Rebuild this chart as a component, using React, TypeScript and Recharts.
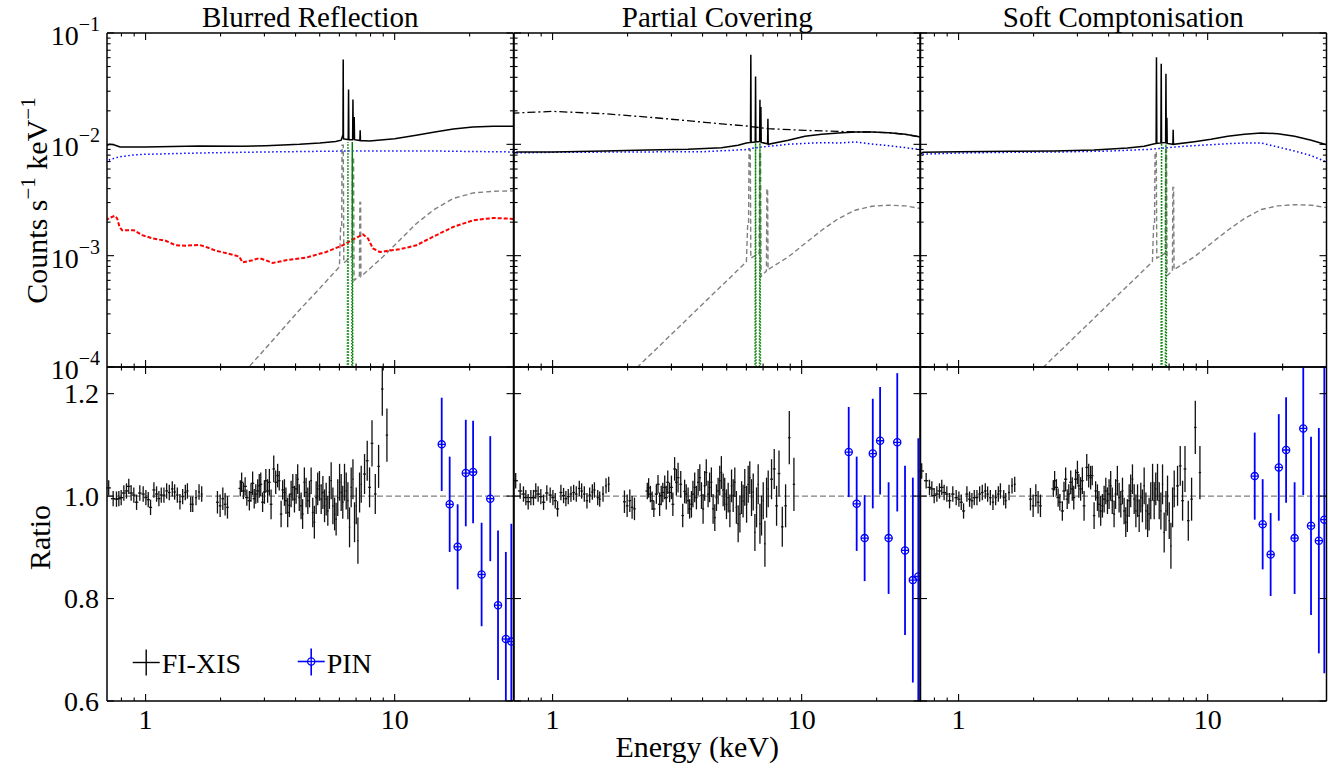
import React from 'react';
import { ComposedChart, Line, Scatter, XAxis, YAxis, ErrorBar, ReferenceLine, Legend } from 'recharts';

// ---------------- fonts / geometry (style only) ----------------
const FONT = '"Liberation Serif", "DejaVu Serif", "Times New Roman", serif';
const TXT = { fontFamily: FONT } as const;
const TICK_FS = 28;
const LABEL_FS = 30;
const TITLE_FS = 29;
const PLOT_LEFTS = [107.3, 513.8, 920.3];
const PLOT_W = 406.5;
const TOP_Y = 32.5;
const MID_Y = 366.5;
const PLOT_H = 334;
const PAD = { top: 45, right: 15, bottom: 72, left: 110 };
const AX = 1; // axis thickness reserved (axes of size 0 are not drawn)
const M = { top: PAD.top - AX, right: PAD.right - AX, bottom: PAD.bottom - AX, left: PAD.left - AX };
const CHART_W = PAD.left + PLOT_W + PAD.right;
const CHART_H = PAD.top + PLOT_H + PAD.bottom;
const TICK_MAJOR = 7;
const TICK_MINOR = 3.6;

// ---------------- axes ----------------
const X_DOMAIN: [number, number] = [0.7, 30];
const Y_LOG_DOMAIN: [number, number] = [0.0001, 0.1];
const RATIO_DOMAIN: [number, number] = [0.6, 1.252];
const xMajorTicks = [1, 10];
const xMajorLabels = ['1', '10'];
const xAllTicks = [0.8, 0.9, 1, 2, 3, 4, 5, 6, 7, 8, 9, 10, 20];
const yLogMajor = [0.0001, 0.001, 0.01, 0.1];
const yLogExponents = ['\u22124', '\u22123', '\u22122', '\u22121'];
const yLogAllTicks = [
  0.0001, 0.0002, 0.0003, 0.0004, 0.0005, 0.0006, 0.0007, 0.0008, 0.0009,
  0.001, 0.002, 0.003, 0.004, 0.005, 0.006, 0.007, 0.008, 0.009,
  0.01, 0.02, 0.03, 0.04, 0.05, 0.06, 0.07, 0.08, 0.09, 0.1,
];
const ratioTicks = [0.6, 0.8, 1.0, 1.2];
const ratioTickLabels = ['0.6', '0.8', '1.0', '1.2'];
const panelTitles = ['Blurred Reflection', 'Partial Covering', 'Soft Comptonisation'];

// ---------------- model curves: [energy keV, counts/s/keV] ----------------
const brTotal: [number, number][] = [
  [0.69, 0.0096], [0.715, 0.01], [0.745, 0.0099], [0.765, 0.0097], [0.79, 0.00945],
  [1.0, 0.00946], [1.64, 0.00966], [2.45, 0.00959], [3.04, 0.00973], [4.15, 0.01],
  [5.0, 0.01028], [5.8, 0.0106], [6.1, 0.0109], [6.17, 0.0118], [6.2, 0.0115],
  [6.215, 0.0578], [6.23, 0.0112], [6.51, 0.011], [6.53, 0.0311], [6.55, 0.011],
  [6.78, 0.011], [6.8, 0.0253], [6.82, 0.0112], [6.86, 0.0112], [6.88, 0.0176],
  [6.9, 0.011], [7.25, 0.0108], [7.27, 0.0134], [7.29, 0.0108], [7.92, 0.0107],
  [10.0, 0.0112], [12.2, 0.01204], [14.3, 0.01281], [17.2, 0.01373], [20.6, 0.0143],
  [24.9, 0.0145], [30.0, 0.0145],
];
const brPowerlaw: [number, number][] = [
  [0.69, 0.0069], [0.72, 0.0073], [0.78, 0.0077], [0.88, 0.008], [1.0, 0.00814],
  [1.64, 0.00836], [3.04, 0.00854], [6.39, 0.00871], [14.27, 0.00871], [30.0, 0.00854],
];
const brBlurred: [number, number][] = [
  [0.69, 0.00207], [0.723, 0.0022], [0.752, 0.00228], [0.769, 0.00216], [0.786, 0.00181],
  [0.805, 0.00169], [0.898, 0.00169], [0.97, 0.00153], [1.064, 0.00143], [1.204, 0.00136],
  [1.321, 0.00124], [1.449, 0.00123], [1.64, 0.00125], [1.744, 0.0012], [1.913, 0.00111],
  [2.234, 0.00102], [2.376, 0.00098], [2.451, 0.00087], [2.689, 0.00091], [2.86, 0.00095],
  [3.04, 0.00091], [3.236, 0.00086], [3.663, 0.00091], [4.41, 0.00096], [5.31, 0.00108],
  [6.19, 0.00124], [6.8, 0.0014], [7.46, 0.00155], [7.81, 0.00143], [8.18, 0.00116],
  [8.7, 0.00108], [9.55, 0.00111], [10.47, 0.00114], [12.23, 0.00124], [14.27, 0.00148],
  [17.17, 0.00181], [20.67, 0.00208], [24.9, 0.00218], [30.0, 0.00214],
];
const brDistant: [number, number][] = [
  [2.376, 0.00008], [3.337, 0.000187], [4.143, 0.000324], [5.145, 0.000544], [6.0, 0.000794],
  [6.07, 0.00182], [6.13, 0.0018], [6.15, 0.0098], [6.22, 0.0098], [6.25, 0.00086],
  [6.75, 0.001], [6.77, 0.0077], [6.84, 0.0077], [6.87, 0.0006], [7.22, 0.00066],
  [7.25, 0.003], [7.3, 0.003], [7.32, 0.00065], [7.69, 0.000716], [8.97, 0.000976],
  [10.47, 0.001377], [12.23, 0.001943], [14.27, 0.00256], [17.17, 0.00326], [20.67, 0.00366],
  [24.9, 0.00379], [30.0, 0.00382],
];
const brLines: [number, number][] = [
  [6.43, 0.000001], [6.49, 0.0105], [6.55, 0.000001], [6.7, 0.000001], [6.76, 0.0105], [6.82, 0.000001],
];

const pcTotal: [number, number][] = [
  [0.69, 0.0082], [0.72, 0.00854], [1.0, 0.00854], [1.615, 0.00871], [2.413, 0.0089],
  [3.497, 0.00902], [4.764, 0.00934], [5.559, 0.0098], [6.0, 0.01028], [6.23, 0.0104],
  [6.25, 0.0637], [6.27, 0.0104], [6.51, 0.0105], [6.53, 0.0407], [6.55, 0.0105],
  [6.78, 0.0106], [6.8, 0.02515], [6.82, 0.0106], [6.84, 0.0106], [6.86, 0.0216],
  [6.88, 0.0104], [7.3, 0.0101], [7.32, 0.017], [7.34, 0.01], [8.84, 0.01086],
  [10.31, 0.0118], [12.04, 0.01229], [14.05, 0.01264], [16.4, 0.0129], [19.14, 0.0129],
  [22.34, 0.01273], [26.07, 0.01229], [30.0, 0.01163],
];
const pcUnabsorbed: [number, number][] = [
  [0.69, 0.0183], [0.7, 0.0191], [1.0, 0.01977], [1.615, 0.01884], [2.567, 0.01735],
  [4.08, 0.01575], [6.0, 0.01461], [7.34, 0.01382], [10.31, 0.01335], [14.05, 0.01308],
  [16.4, 0.0129], [19.14, 0.0129], [22.34, 0.01273], [26.07, 0.01229], [30.0, 0.01163],
];
const pcPowerlaw: [number, number][] = [
  [0.69, 0.00836], [1.0, 0.00848], [2.199, 0.00854], [4.08, 0.0086], [5.91, 0.00896],
  [6.29, 0.0092], [7.34, 0.0096], [8.84, 0.01], [10.31, 0.0102], [12.04, 0.01035],
  [14.05, 0.01028], [16.4, 0.0105], [19.14, 0.01007], [22.34, 0.00973], [26.07, 0.00934],
  [30.0, 0.00896],
];
const pcDistant: [number, number][] = [
  [2.068, 0.000088], [2.996, 0.000196], [4.08, 0.000383], [5.559, 0.000746], [6.0, 0.000881],
  [6.07, 0.0019], [6.12, 0.0019], [6.15, 0.009], [6.22, 0.009], [6.25, 0.00095],
  [6.75, 0.00105], [6.78, 0.0085], [6.84, 0.0085], [6.87, 0.00065], [7.22, 0.00073],
  [7.25, 0.004], [7.3, 0.004], [7.33, 0.00075], [8.84, 0.000976], [10.31, 0.001285],
  [12.04, 0.001693], [14.05, 0.002155], [16.4, 0.00256], [19.14, 0.00278], [22.34, 0.00284],
  [26.07, 0.0028], [30.0, 0.00265],
];
const pcLines: [number, number][] = [
  [6.47, 0.000001], [6.53, 0.0103], [6.59, 0.000001], [6.74, 0.000001], [6.8, 0.0103], [6.86, 0.000001],
];

const scTotal: [number, number][] = [
  [0.69, 0.008], [0.72, 0.00848], [1.0, 0.0086], [1.615, 0.00866], [2.413, 0.00871],
  [3.497, 0.0089], [4.764, 0.00927], [5.559, 0.0096], [6.0, 0.01], [6.21, 0.0102],
  [6.23, 0.0607], [6.25, 0.0102], [6.49, 0.0103], [6.51, 0.0529], [6.53, 0.0103],
  [6.78, 0.0104], [6.8, 0.043], [6.82, 0.0104], [6.84, 0.0104], [6.86, 0.01735],
  [6.88, 0.0102], [7.25, 0.01], [7.27, 0.01354], [7.29, 0.01], [8.84, 0.01057],
  [10.31, 0.01109], [12.04, 0.0118], [14.05, 0.01229], [16.4, 0.01264], [19.14, 0.01247],
  [22.34, 0.0118], [26.07, 0.01086], [30.0, 0.00993],
];
const scCompt: [number, number][] = [
  [0.69, 0.00814], [1.0, 0.00836], [1.615, 0.00848], [2.567, 0.00854], [4.08, 0.00871],
  [5.91, 0.00902], [7.34, 0.00946], [8.84, 0.00973], [10.31, 0.00993], [12.04, 0.01014],
  [14.05, 0.01028], [16.4, 0.01028], [19.14, 0.00946], [22.34, 0.00871], [26.07, 0.00791],
  [30.0, 0.00694],
];
const scDistant: [number, number][] = [
  [2.068, 0.000088], [2.996, 0.000196], [4.08, 0.000383], [5.559, 0.000746], [6.0, 0.000881],
  [6.07, 0.0019], [6.12, 0.0019], [6.15, 0.0085], [6.22, 0.0085], [6.25, 0.00095],
  [6.75, 0.00105], [6.78, 0.0088], [6.84, 0.0088], [6.87, 0.00066], [7.22, 0.00073],
  [7.25, 0.0041], [7.3, 0.0041], [7.33, 0.00075], [8.84, 0.000976], [10.31, 0.001285],
  [12.04, 0.001693], [14.05, 0.002155], [16.4, 0.0026], [19.14, 0.0028], [22.34, 0.00287],
  [26.07, 0.00284], [30.0, 0.0027],
];
const scLines: [number, number][] = [
  [6.47, 0.000001], [6.53, 0.0102], [6.59, 0.000001], [6.74, 0.000001], [6.8, 0.0102], [6.86, 0.000001],
];

// ---------------- FI-XIS ratio data ----------------
const xisLowE = [0.711, 0.741, 0.764, 0.781, 0.798, 0.818, 0.838, 0.856, 0.875, 0.897, 0.92, 0.948, 0.978, 1.003, 1.025, 1.047, 1.08, 1.107, 1.131, 1.156, 1.185, 1.215, 1.245, 1.28, 1.308, 1.341, 1.374, 1.409, 1.444, 1.472, 1.518, 1.546, 1.594, 1.639, 1.68];
const xisGapE = [1.943, 1.992, 2.042, 2.086, 2.132];
const xisMidE = [2.4, 2.43, 2.47, 2.51, 2.55, 2.61, 2.65, 2.69, 2.73, 2.77, 2.82, 2.86, 2.9, 2.95, 3.0, 3.04, 3.09, 3.14, 3.19, 3.27, 3.33, 3.39, 3.44, 3.5, 3.55, 3.61, 3.66, 3.72, 3.78, 3.84, 3.9, 3.96, 4.02, 4.08, 4.14, 4.21, 4.27, 4.34, 4.41, 4.48, 4.55, 4.62, 4.69, 4.76, 4.84, 4.91, 4.99, 5.07, 5.15, 5.23, 5.31, 5.39, 5.47, 5.56, 5.65, 5.74, 5.82, 5.91, 6.01, 6.1, 6.19, 6.29, 6.39, 6.49, 6.59, 6.69, 6.8, 6.9, 7.01, 7.12, 7.23, 7.34, 7.57, 7.76, 7.93, 8.11, 8.36, 8.62, 8.92, 9.31];
const xisMidErr = [
  0.016, 0.019, 0.016, 0.018, 0.016, 0.019, 0.018, 0.023, 0.019, 0.019,
  0.023, 0.023, 0.023, 0.019, 0.023, 0.023, 0.023, 0.026, 0.029, 0.026,
  0.023, 0.023, 0.019, 0.026, 0.019, 0.026, 0.026, 0.029, 0.023, 0.026,
  0.026, 0.026, 0.029, 0.029, 0.026, 0.026, 0.029, 0.029, 0.029, 0.026,
  0.026, 0.026, 0.029, 0.032, 0.032, 0.032, 0.029, 0.029, 0.032, 0.032,
  0.032, 0.029, 0.032, 0.036, 0.036, 0.032, 0.032, 0.036, 0.036, 0.036,
  0.032, 0.036, 0.036, 0.036, 0.039, 0.039, 0.039, 0.039, 0.036, 0.045,
  0.039, 0.036, 0.039, 0.039, 0.039, 0.045, 0.039, 0.042, 0.052, 0.052,
];
const xisLowErr = 0.015;
const xisGapErr = 0.022;
const xisBinHalf = { low: 0.015, gap: 0.025, mid: 0.04, high: 0.1 };

const brXisLow = [1.016, 0.995, 0.994, 0.995, 0.997, 1.006, 1.01, 1.019, 1.006, 1.002, 0.988, 1.006, 1.004, 0.997, 0.993, 0.978, 1.012, 1.004, 0.995, 1.002, 1.002, 1.01, 1.007, 1.014, 1.008, 1.002, 0.989, 0.999, 1.007, 1.01, 0.984, 0.984, 0.997, 1.008, 1.004];
const brXisGap = [0.988, 0.981, 0.995, 0.984, 0.978];
const brXisMid = [
  1.015, 1.027, 1.01, 1.019, 0.997, 0.991, 1.007, 1.025, 0.995, 1.004,
  1.01, 1.02, 1.023, 0.988, 1.008, 1.03, 1.01, 1.027, 0.984, 1.053,
  1.027, 1.04, 1.03, 0.965, 1.012, 1.007, 0.991, 0.968, 0.982, 1.004,
  1.017, 0.994, 1.014, 1.033, 0.997, 0.981, 0.965, 1.027, 1.007, 0.991,
  1.004, 1.03, 0.968, 0.949, 0.997, 1.014, 1.02, 0.994, 1.007, 0.981,
  0.994, 0.971, 1.007, 1.03, 0.981, 0.965, 0.955, 0.997, 1.027, 1.007,
  0.988, 1.027, 1.01, 0.991, 0.939, 1.017, 1.033, 0.949, 0.981, 0.913,
  1.007, 1.023, 1.043, 1.069, 1.017, 1.103, 1.004, 1.058, 1.209, 1.119,
];
const pcXisLow = [1.03, 1.01, 1.004, 0.997, 0.989, 0.997, 0.997, 1.01, 1.004, 0.999, 0.988, 1.006, 1.002, 0.997, 0.991, 0.975, 1.007, 1.001, 0.995, 0.999, 1.004, 1.007, 1.004, 1.015, 1.01, 1.004, 0.991, 1.002, 1.008, 1.012, 0.997, 0.994, 1.004, 1.02, 1.023];
const pcXisGap = [0.989, 0.981, 0.991, 0.978, 0.975];
const pcXisMid = [
  1.01, 1.016, 1.004, 0.991, 0.975, 1.004, 1.023, 0.984, 1.001, 1.007,
  1.017, 0.997, 1.027, 1.007, 1.017, 0.984, 1.053, 1.027, 1.036, 1.023,
  0.962, 1.009, 1.004, 0.991, 0.975, 0.984, 1.004, 1.017, 0.997, 1.027,
  1.036, 1.001, 0.975, 1.02, 1.046, 1.004, 1.017, 1.027, 0.975, 0.958,
  0.997, 1.01, 1.03, 1.046, 1.012, 1.004, 0.984, 0.997, 0.971, 1.02,
  1.001, 1.027, 0.978, 0.946, 0.965, 0.997, 0.99, 1.017, 0.984, 1.023,
  1.036, 0.997, 1.008, 0.929, 0.978, 1.023, 0.946, 0.962, 0.991, 0.907,
  0.997, 1.014, 1.033, 1.053, 0.981, 1.044, 0.94, 0.981, 1.114, 1.023,
];
const scXisLow = [1.049, 1.03, 1.017, 1.014, 1.001, 1.004, 1.01, 1.017, 1.007, 1.004, 0.991, 1.004, 0.997, 0.994, 0.988, 0.971, 1.004, 0.994, 0.991, 0.997, 0.997, 1.004, 1.007, 1.01, 1.004, 0.997, 0.988, 0.997, 1.004, 1.01, 0.997, 0.991, 1.007, 1.02, 1.023];
const scXisGap = [0.994, 0.981, 1.001, 0.988, 0.981];
const scXisMid = [
  1.014, 1.03, 1.017, 0.997, 0.988, 0.971, 1.01, 1.033, 0.994, 1.004,
  1.027, 1.014, 0.997, 1.033, 1.046, 1.02, 1.014, 1.03, 0.981, 1.056,
  1.04, 1.036, 1.04, 0.962, 1.01, 0.997, 0.984, 0.971, 0.981, 0.994,
  1.01, 0.991, 1.004, 1.02, 0.991, 0.965, 1.004, 1.03, 0.997, 0.984,
  1.01, 0.971, 0.949, 0.962, 0.991, 1.01, 1.033, 0.994, 0.971, 0.991,
  0.962, 0.997, 0.981, 1.02, 0.971, 0.952, 0.965, 0.991, 1.027, 0.991,
  1.014, 1.027, 0.991, 0.971, 1.023, 0.929, 0.971, 1.001, 0.952, 0.903,
  0.978, 1.014, 1.02, 1.059, 0.991, 1.053, 0.952, 0.994, 1.134, 1.046,
];

// ---------------- PIN ratio data ----------------
const pinE = [15.45, 16.63, 17.9, 19.3, 20.65, 22.34, 24.2, 26.0, 27.95, 29.4];
const brPin = [1.101, 0.984, 0.901, 1.045, 1.047, 0.847, 0.995, 0.787, 0.721, 0.716];
const brPinErr = [0.091, 0.093, 0.083, 0.104, 0.1, 0.101, 0.122, 0.146, 0.17, 0.23];
const pcPin = [1.086, 0.985, 0.918, 1.083, 1.108, 0.918, 1.105, 0.894, 0.836, 0.843];
const pcPinErr = [0.088, 0.092, 0.084, 0.107, 0.105, 0.109, 0.135, 0.165, 0.2, 0.27];
const scPin = [1.039, 0.945, 0.886, 1.056, 1.09, 0.918, 1.132, 0.942, 0.913, 0.954];
const scPinErr = [0.085, 0.088, 0.081, 0.104, 0.103, 0.109, 0.13, 0.174, 0.22, 0.3];

// ---------------- styles ----------------
type Curve = { data: [number, number][]; stroke: string; width: number; dash?: string };
const S_TOTAL = { stroke: '#000000', width: 1.5 };
const S_BLUE = { stroke: '#0000ff', width: 1.5, dash: '1.5 2.5' };
const S_RED = { stroke: '#ff0000', width: 2, dash: '4 2' };
const S_GREY = { stroke: '#808080', width: 1.4, dash: '5 3' };
const S_GREEN = { stroke: '#008000', width: 1.5, dash: '1.5 1.5' };
const S_DASHDOT = { stroke: '#000000', width: 1.3, dash: '8 3 2 3' };

const modelCurves: Curve[][] = [
  [
    { data: brDistant, ...S_GREY },
    { data: brBlurred, ...S_RED },
    { data: brPowerlaw, ...S_BLUE },
    { data: brLines, ...S_GREEN },
    { data: brTotal, ...S_TOTAL },
  ],
  [
    { data: pcDistant, ...S_GREY },
    { data: pcPowerlaw, ...S_BLUE },
    { data: pcLines, ...S_GREEN },
    { data: pcUnabsorbed, ...S_DASHDOT },
    { data: pcTotal, ...S_TOTAL },
  ],
  [
    { data: scDistant, ...S_GREY },
    { data: scCompt, ...S_BLUE },
    { data: scLines, ...S_GREEN },
    { data: scTotal, ...S_TOTAL },
  ],
];

// error bars are clamped to the visible ratio window (the frame clips them in the original)
function clampErr(r: number, err: number): [number, number] {
  const lo = Math.max(0, Math.min(err, r - RATIO_DOMAIN[0]));
  const hi = Math.max(0, Math.min(err, RATIO_DOMAIN[1] - r));
  return [lo, hi];
}

function buildXis(low: number[], gap: number[], mid: number[]) {
  const out: { e: number; r: number; ey: [number, number]; ex: number }[] = [];
  low.forEach((r, i) => { if (i < xisLowE.length) out.push({ e: xisLowE[i], r, ey: clampErr(r, xisLowErr), ex: xisBinHalf.low }); });
  gap.forEach((r, i) => { if (i < xisGapE.length) out.push({ e: xisGapE[i], r, ey: clampErr(r, xisGapErr), ex: xisBinHalf.gap }); });
  mid.forEach((r, i) => {
    if (i < xisMidE.length) out.push({ e: xisMidE[i], r, ey: clampErr(r, xisMidErr[i]), ex: i >= 72 ? xisBinHalf.high : xisBinHalf.mid });
  });
  return out;
}
function buildPin(vals: number[], errs: number[]) {
  return vals.map((r, i) => ({ e: pinE[i], r, ey: clampErr(r, errs[i]) }));
}
const xisData = [buildXis(brXisLow, brXisGap, brXisMid), buildXis(pcXisLow, pcXisGap, pcXisMid), buildXis(scXisLow, scXisGap, scXisMid)];
const pinData = [buildPin(brPin, brPinErr), buildPin(pcPin, pcPinErr), buildPin(scPin, scPinErr)];

const toPts = (d: [number, number][]) => d.map(([e, v]) => ({ e, v }));

// ---------------- tick renderers ----------------
function renderXTick(p: any, edgeY: number, dir: number, showLabel: boolean) {
  const x = p.x;
  const v = p.payload ? p.payload.value : null;
  const idx = xMajorTicks.indexOf(v);
  const major = idx >= 0;
  const len = major ? TICK_MAJOR : TICK_MINOR;
  return (
    <g>
      <line x1={x} x2={x} y1={edgeY} y2={edgeY + dir * len} stroke="#000" strokeWidth={1.1} />
      {showLabel && major ? (
        <text x={x} y={edgeY + 28} textAnchor="middle" style={TXT} fontSize={TICK_FS} fill="#000">{xMajorLabels[idx]}</text>
      ) : null}
    </g>
  );
}
function renderYTick(p: any, edgeX: number, dir: number, showLabel: boolean, isLog: boolean) {
  const y = p.y;
  const v = p.payload ? p.payload.value : null;
  const majors = isLog ? yLogMajor : ratioTicks;
  const idx = majors.indexOf(v);
  const major = idx >= 0;
  const len = major ? TICK_MAJOR : TICK_MINOR;
  let label: any = null;
  if (showLabel && major) {
    label = isLog ? (
      <text x={edgeX - 7} y={y + 12} textAnchor="end" style={TXT} fontSize={TICK_FS} fill="#000">
        10<tspan dy={-14} fontSize={20}>{yLogExponents[idx]}</tspan>
      </text>
    ) : (
      <text x={edgeX - 8} y={y + 9.5} textAnchor="end" style={TXT} fontSize={TICK_FS} fill="#000">{ratioTickLabels[idx]}</text>
    );
  }
  return (
    <g>
      <line x1={edgeX} x2={edgeX + dir * len} y1={y} y2={y} stroke="#000" strokeWidth={1.1} />
      {label}
    </g>
  );
}

const XisShape = () => <g />;
const PinShape = (p: any) => {
  const { cx, cy } = p;
  if (cx == null || cy == null) return <g />;
  return (
    <g>
      <circle cx={cx} cy={cy} r={3.6} fill="none" stroke="#0000ff" strokeWidth={1.3} />
      <line x1={cx - 3.6} x2={cx + 3.6} y1={cy} y2={cy} stroke="#0000ff" strokeWidth={1.3} />
    </g>
  );
};

function LegendBox({ offX, offY }: { offX: number; offY: number }) {
  const X = (px: number) => px - offX;
  const Y = (py: number) => py - offY;
  return (
    <svg width={CHART_W} height={CHART_H} style={{ position: 'absolute', left: 0, top: 0, overflow: 'visible' }}>
      <line x1={X(133)} x2={X(160)} y1={Y(662)} y2={Y(662)} stroke="#000" strokeWidth={1.4} />
      <line x1={X(146.5)} x2={X(146.5)} y1={Y(649)} y2={Y(675)} stroke="#000" strokeWidth={1.4} />
      <text x={X(162)} y={Y(672)} style={TXT} fontSize={28} fill="#000">FI-XIS</text>
      <line x1={X(298)} x2={X(325)} y1={Y(661)} y2={Y(661)} stroke="#0000ff" strokeWidth={1.6} />
      <line x1={X(311.5)} x2={X(311.5)} y1={Y(648)} y2={Y(675)} stroke="#0000ff" strokeWidth={1.6} />
      <circle cx={X(311.5)} cy={Y(661)} r={3.6} fill="#fff" stroke="#0000ff" strokeWidth={1.3} />
      <line x1={X(307.9)} x2={X(315.1)} y1={Y(661)} y2={Y(661)} stroke="#0000ff" strokeWidth={1.3} />
      <line x1={X(311.5)} x2={X(311.5)} y1={Y(657.4)} y2={Y(664.6)} stroke="#0000ff" strokeWidth={1.3} />
      <text x={X(327)} y={Y(672)} style={TXT} fontSize={28} fill="#000">PIN</text>
    </svg>
  );
}

function Panel({ col, row }: { col: number; row: number }) {
  const plotLeft = PLOT_LEFTS[col];
  const plotTop = row === 0 ? TOP_Y : MID_Y;
  const offX = plotLeft - PAD.left;
  const offY = plotTop - PAD.top;
  const L = PAD.left;
  const R = PAD.left + PLOT_W;
  const T = PAD.top;
  const B = PAD.top + PLOT_H;
  const isModel = row === 0;
  const axisLine = { stroke: '#000', strokeWidth: 1.5 };

  const titleLabel = isModel
    ? () => (
        <text x={L + PLOT_W / 2} y={26 - offY} textAnchor="middle" style={TXT} fontSize={TITLE_FS} fill="#000">
          {panelTitles[col]}
        </text>
      )
    : undefined;

  const xLabel = !isModel && col === 1
    ? () => (
        <text x={697 - offX} y={756 - offY} textAnchor="middle" style={TXT} fontSize={LABEL_FS} fill="#000">
          Energy (keV)
        </text>
      )
    : undefined;

  const yLabel = col === 0
    ? isModel
      ? () => (
          <text transform={`translate(${47 - offX},${200 - offY}) rotate(-90)`} textAnchor="middle" style={TXT} fontSize={LABEL_FS} fill="#000">
            Counts s<tspan dy={-12} fontSize={21}>{'\u22121'}</tspan>
            <tspan dy={12}> keV</tspan>
            <tspan dy={-12} fontSize={21}>{'\u22121'}</tspan>
          </text>
        )
      : () => (
          <text transform={`translate(${50 - offX},${537 - offY}) rotate(-90)`} textAnchor="middle" style={TXT} fontSize={LABEL_FS} fill="#000">
            Ratio
          </text>
        )
    : undefined;

  const yTicks = isModel ? yLogAllTicks : ratioTicks;
  const yDomain = isModel ? Y_LOG_DOMAIN : RATIO_DOMAIN;
  const yScale = isModel ? 'log' : 'linear';

  return (
    <div style={{ position: 'absolute', left: offX, top: offY, width: CHART_W, height: CHART_H }}>
      <ComposedChart width={CHART_W} height={CHART_H} margin={M}>
        <XAxis
          xAxisId="b" dataKey="e" type="number" scale="log" domain={X_DOMAIN} allowDataOverflow
          orientation="bottom" height={AX} ticks={xAllTicks} interval={0} tickLine={false} axisLine={axisLine}
          tick={(p: any) => renderXTick(p, B, -1, !isModel)}
          label={xLabel}
        />
        <XAxis
          xAxisId="t" dataKey="e" type="number" scale="log" domain={X_DOMAIN} allowDataOverflow
          orientation="top" height={AX} ticks={xAllTicks} interval={0} tickLine={false} axisLine={axisLine}
          tick={(p: any) => renderXTick(p, T, 1, false)}
          label={titleLabel}
        />
        <YAxis
          yAxisId="l" type="number" scale={yScale as any} domain={yDomain} allowDataOverflow
          orientation="left" width={AX} ticks={yTicks} interval={0} tickLine={false} axisLine={axisLine}
          tick={(p: any) => renderYTick(p, L, 1, col === 0, isModel)}
          label={yLabel}
        />
        <YAxis
          yAxisId="r" type="number" scale={yScale as any} domain={yDomain} allowDataOverflow
          orientation="right" width={AX} ticks={yTicks} interval={0} tickLine={false} axisLine={axisLine}
          tick={(p: any) => renderYTick(p, R, -1, false, isModel)}
        />
        {isModel
          ? modelCurves[col].map((c, i) => (
              <Line
                key={`c${i}`}
                data={toPts(c.data)}
                dataKey="v"
                xAxisId="b"
                yAxisId="l"
                type="linear"
                dot={false}
                activeDot={false}
                stroke={c.stroke}
                strokeWidth={c.width}
                strokeDasharray={c.dash}
                isAnimationActive={false}
              />
            ))
          : null}
        {!isModel ? (
          <ReferenceLine y={1} xAxisId="b" yAxisId="l" stroke="#808080" strokeWidth={1.3} strokeDasharray="6 3" />
        ) : null}
        {!isModel ? (
          <Scatter data={xisData[col]} dataKey="r" xAxisId="b" yAxisId="l" shape={XisShape} isAnimationActive={false}>
            <ErrorBar dataKey="ey" direction="y" width={0} stroke="#111" strokeWidth={1.3} isAnimationActive={false} />
            <ErrorBar dataKey="ex" direction="x" width={0} stroke="#111" strokeWidth={1.3} isAnimationActive={false} />
          </Scatter>
        ) : null}
        {!isModel ? (
          <Scatter data={pinData[col]} dataKey="r" xAxisId="b" yAxisId="l" shape={PinShape} isAnimationActive={false}>
            <ErrorBar dataKey="ey" direction="y" width={0} stroke="#0000ff" strokeWidth={1.8} isAnimationActive={false} />
          </Scatter>
        ) : null}
        {!isModel && col === 0 ? (
          <Legend
            verticalAlign="middle"
            align="center"
            layout="horizontal"
            wrapperStyle={{ left: 0, top: 0, width: CHART_W, height: CHART_H, pointerEvents: 'none' }}
            content={() => <LegendBox offX={offX} offY={offY} />}
          />
        ) : null}
      </ComposedChart>
    </div>
  );
}

export default function App() {
  return (
    <div style={{ position: 'absolute', left: 0, top: 0, width: 1341, height: 772, background: '#fff', overflow: 'hidden' }}>
      {[0, 1, 2].map((c) => (
        <Panel key={`t${c}`} col={c} row={0} />
      ))}
      {[0, 1, 2].map((c) => (
        <Panel key={`b${c}`} col={c} row={1} />
      ))}
    </div>
  );
}
